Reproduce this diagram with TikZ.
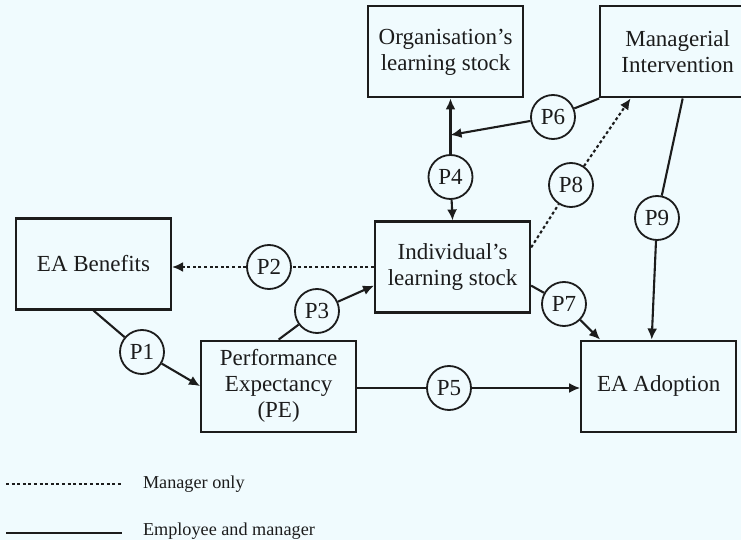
\documentclass[tikz,border=0pt]{standalone}
\usepackage{fontspec}
\setmainfont{Liberation Serif}
\usetikzlibrary{positioning, arrows.meta, calc}

\definecolor{paper}{RGB}{240,251,254}
\definecolor{ink}{RGB}{28,28,28}

\begin{document}
\begin{tikzpicture}[x=0.5pt,y=-0.5pt,->,>={Latex[length=5.5pt,width=5pt]},line width=1.05pt,color=ink]

			\tikzstyle{every node}=[font=\fontsize{11.5}{13}\selectfont]

			\tikzstyle{construct}=[rectangle,draw,fill=paper,minimum width=77.5pt,minimum height=45.5pt,align=center,inner sep=2pt]
			\tikzstyle{prop}=[circle,draw,fill=paper,line width=0.9pt,minimum size=22pt,inner sep=0pt]
			\tikzstyle{manager}=[dash pattern=on 1.5pt off 1.3pt]
			\tikzstyle{key}=[anchor=west,inner sep=0pt,font=\fontsize{9.1}{11}\selectfont]

			\fill[paper] (0,0) rectangle (741,540);
			\useasboundingbox (0,0) rectangle (741,540);

			\node[construct] (ben) at (93.5,264) {EA Benefits};
			\node[construct] (ils) [right=101pt of ben, yshift=-1.5pt] {Individual’s\\learning stock};
			\node[construct] (ols) [above=61pt of ils, xshift=-3.5pt] {Organisation’s\\learning stock};
			\node[construct] (mgr) [right=37.5pt of ols] {Managerial\\Intervention};
			\node[construct] (pe) [below right=14.5pt and 14pt of ben] {Performance\\Expectancy\\(PE)};
			\node[construct] (ead) [right=111.5pt of pe] {EA Adoption};

			% propositions
			\node[prop] (p1) at (142,352) {P1};
			\node[prop] (p2) at (269,267) {P2};
			\node[prop] (p3) at (317,311) {P3};
			\node[prop] (p4) at (450.5,177) {P4};
			\node[prop] (p5) at (449,388) {P5};
			\node[prop] (p6) at (553,117) {P6};
			\node[prop] (p7) at (564,304) {P7};
			\node[prop] (p8) at (571,185) {P8};
			\node[prop] (p9) at (657,218) {P9};

			\coordinate (ils-p3) at ($(ils.west)!0.4!(ils.south west)$);
			\coordinate (ils-p7) at ($(ils.east)!0.4!(ils.south east)$);
			\coordinate (ils-p8) at ($(ils.east)!0.42!(ils.north east)$);
			\coordinate (mgr-p8) at ($(mgr.south west)!0.4!(mgr.south)$);
			\coordinate (mgr-p9) at ($(mgr.south)+(5,0)$);
			\coordinate (ead-p9) at ($(ead.north)+(-7,0)$);
			\coordinate (ead-p7) at ($(ead.north west)+(20,0)$);
			\coordinate (ols-p4) at (p4 |- ols.south);
			\coordinate (p6-p4) at (p4 |- 0,135);

			\path (ben.south) edge [-] (p1)
			(p1) edge (pe.west)
			(ils.west) edge [-,manager] (p2)
			(p2) edge [manager] (ben.east |- p2)
			(pe.north) edge [-] (p3)
			(p3) edge (ils-p3)
			(p4) edge (ils.north)
			(p4) edge (ols-p4)
			(pe.east |- p5) edge [-] (p5)
			(p5) edge (ead.west |- p5)
			(mgr.south west) edge [-] (p6)
			(p6) edge (p6-p4)
			(ils-p7) edge [-] (p7)
			(p7) edge (ead-p7)
			(ils-p8) edge [-,manager] (p8)
			(p8) edge [manager] (mgr-p8)
			(mgr-p9) edge [-] (p9)
			(p9) edge (ead-p9);

			% legend
			\coordinate (k1a) at (6,484);
			\coordinate (k1b) at (122,484);
			\coordinate (k2a) at (6,533);
			\coordinate (k2b) at (122,533);
			\path (k1a) edge [-,manager] (k1b)
			(k2a) edge [-] (k2b);
			\node[key] (k1) at (142,484) {Manager only};
			\node[key] (k2) at (142,531) {Employee and manager};

		\end{tikzpicture}
\end{document}
